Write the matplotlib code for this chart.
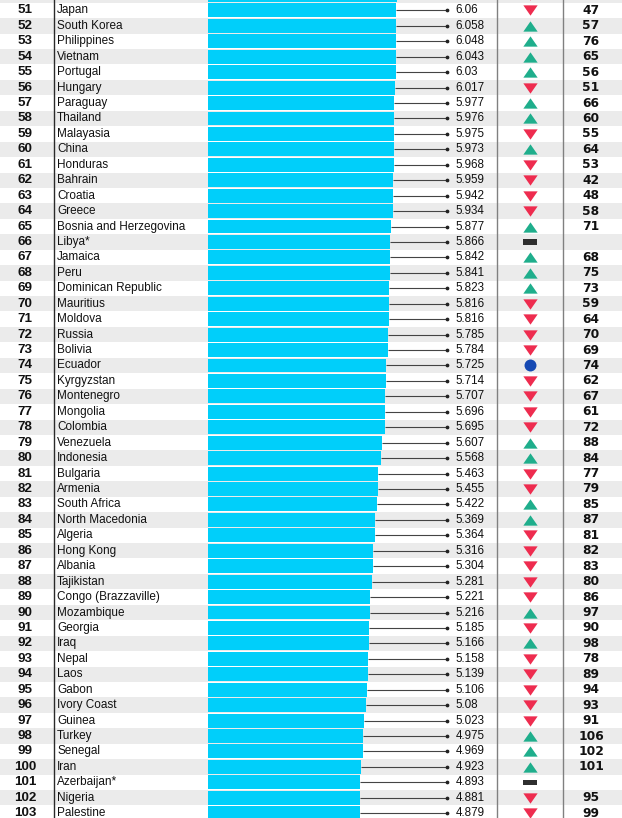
import matplotlib
matplotlib.use("Agg")
import matplotlib.pyplot as plt
import numpy as np

# ---------------- data ----------------
ranks = list(range(50, 104))
countries = ["", "Japan", "South Korea", "Philippines", "Vietnam", "Portugal", "Hungary",
             "Paraguay", "Thailand", "Malayasia", "China", "Honduras", "Bahrain",
             "Croatia", "Greece", "Bosnia and Herzegovina", "Libya*", "Jamaica", "Peru",
             "Dominican Republic", "Mauritius", "Moldova", "Russia", "Bolivia", "Ecuador",
             "Kyrgyzstan", "Montenegro", "Mongolia", "Colombia", "Venezuela", "Indonesia",
             "Bulgaria", "Armenia", "South Africa", "North Macedonia", "Algeria",
             "Hong Kong", "Albania", "Tajikistan", "Congo (Brazzaville)", "Mozambique",
             "Georgia", "Iraq", "Nepal", "Laos", "Gabon", "Ivory Coast", "Guinea",
             "Turkey", "Senegal", "Iran", "Azerbaijan*", "Nigeria", "Palestine"]
scores = [6.07, 6.06, 6.058, 6.048, 6.043, 6.03, 6.017, 5.977, 5.976, 5.975, 5.973,
          5.968, 5.959, 5.942, 5.934, 5.877, 5.866, 5.842, 5.841, 5.823, 5.816, 5.816,
          5.785, 5.784, 5.725, 5.714, 5.707, 5.696, 5.695, 5.607, 5.568, 5.463, 5.455,
          5.422, 5.369, 5.364, 5.316, 5.304, 5.281, 5.221, 5.216, 5.185, 5.166, 5.158,
          5.139, 5.106, 5.08, 5.023, 4.975, 4.969, 4.923, 4.893, 4.881, 4.879]
trend = ["down", "down", "up", "up", "up", "up", "down", "up", "up", "down", "up",
         "down", "down", "down", "down", "up", "new", "up", "up", "up", "down", "down",
         "down", "down", "same", "down", "down", "down", "down", "up", "up", "down",
         "down", "up", "up", "down", "down", "down", "down", "down", "up", "down", "up",
         "down", "down", "down", "down", "down", "up", "up", "up", "new", "down", "down"]
prev_rank = ["", "47", "57", "76", "65", "56", "51", "66", "60", "55", "64", "53", "42",
             "48", "58", "71", "", "68", "75", "73", "59", "64", "70", "69", "74", "62",
             "67", "61", "72", "88", "84", "77", "79", "85", "87", "81", "82", "83", "80",
             "86", "97", "90", "98", "78", "89", "94", "93", "91", "106", "102", "101",
             "", "95", "99"]

# ---------------- layout (pixels) ----------------
W, H = 622, 818
ROW_PX = 15.44
TOP_OFF = 10.4      # px from top of image to centre of first full row (51)
BOT_OFF = 4.8
BAR_X0 = 208.0
PX_PER_UNIT = 31.1
DOT_PX = 447.0

fig = plt.figure(figsize=(W / 100, H / 100), dpi=100)
fig.patch.set_facecolor("white")

ylim = (103 + BOT_OFF / ROW_PX, 51 - TOP_OFF / ROW_PX)

ax = fig.add_axes([0, 0, 1, 1])
ax.set_xlim(0, W)
ax.set_ylim(*ylim)
ax.axis("off")

# alternating row backgrounds
for r in ranks:
    if r % 2 == 0:
        ax.axhspan(r - 0.5, r + 0.5, color="#ebebeb", lw=0, zorder=0)

# vertical separators
ax.axvline(53.5, color="#2a2a2a", lw=1.0, zorder=1)
ax.axvline(496.5, color="#808080", lw=1.0, zorder=1)
ax.axvline(563.0, color="#808080", lw=1.0, zorder=1)

# bar axes
ax_bar = fig.add_axes([BAR_X0 / W, 0, (W - BAR_X0) / W, 1])
ax_bar.set_xlim(0, (W - BAR_X0) / PX_PER_UNIT)
ax_bar.set_ylim(*ylim)
ax_bar.axis("off")
ax_bar.patch.set_alpha(0)

dot_x = (DOT_PX - BAR_X0) / PX_PER_UNIT
ax_bar.barh(ranks, scores, height=0.9, color="#00cffa", edgecolor="none", zorder=2)
ax_bar.hlines(ranks, scores, dot_x, color="#444444", lw=0.8, zorder=1)
ax_bar.plot([dot_x] * len(ranks), ranks, "o", ms=1.7, color="#222222", zorder=3)

# texts (row 50 is only a sliver at the top edge, its texts are not visible)
for r, c, s, p in zip(ranks, countries, scores, prev_rank):
    if not c:
        continue
    ax.text(25, r, str(r), ha="center", va="center", fontsize=9.6, fontweight="bold",
            family="Liberation Sans", color="#111111")
    ax.text(57, r, c, ha="left", va="center", fontsize=8.5,
            family="Liberation Sans", color="#111111")
    ax.text(455.5, r, str(s), ha="left", va="center", fontsize=8.4,
            family="Liberation Sans", color="#111111")
    if p:
        ax.text(591, r, p, ha="center", va="center", fontsize=8.8, fontweight="bold",
                family="DejaVu Sans", color="#111111")

# trend markers
up_m = [(-1, -0.72), (1, -0.72), (0, 0.72)]
down_m = [(-1, 0.72), (1, 0.72), (0, -0.72)]
MX = 530
for r, t in zip(ranks, trend):
    if t == "up":
        ax.plot(MX, r, marker=up_m, ms=10.3, color="#1fae8c", mew=0, zorder=3)
    elif t == "down":
        ax.plot(MX, r, marker=down_m, ms=10.3, color="#ee2c4f", mew=0, zorder=3)
    elif t == "same":
        ax.plot(MX, r, marker="o", ms=8.6, color="#1549b3", mew=0, zorder=3)
    elif t == "new":
        ax.add_patch(plt.Rectangle((MX - 7, r - 0.17), 14, 0.34, color="#2e2e2e",
                                   lw=0, zorder=3))

fig.savefig("out.png", dpi=100, facecolor="white")
